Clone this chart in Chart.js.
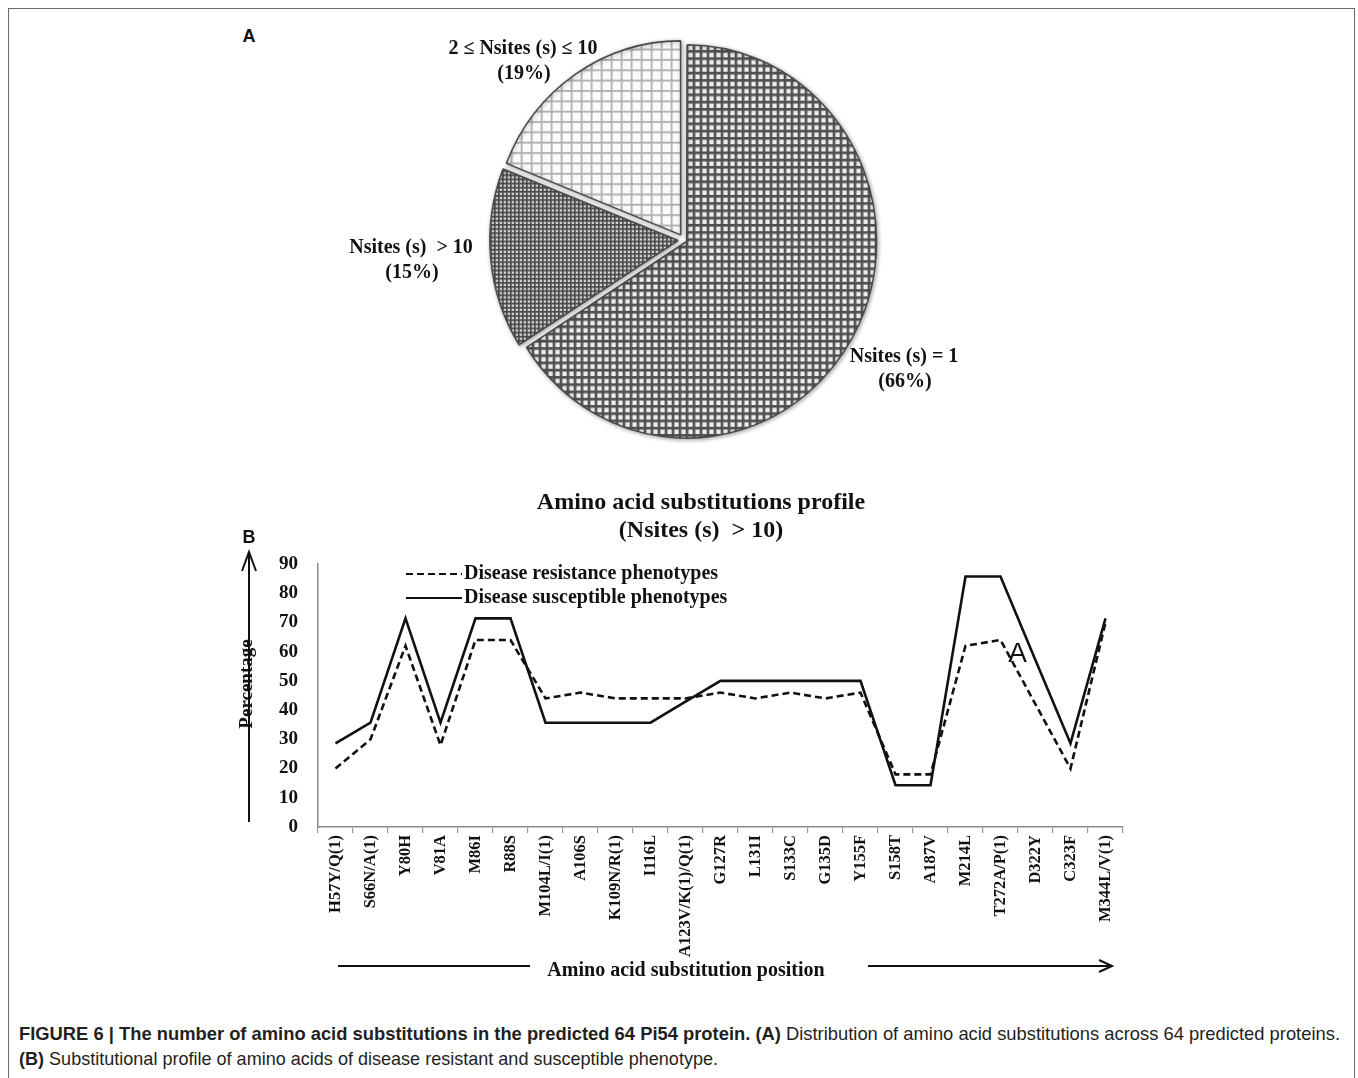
<!DOCTYPE html>
<html>
<head>
<meta charset="utf-8">
<title>Amino acid substitutions in predicted Pi54 proteins</title>
<script src="https://cdn.jsdelivr.net/npm/chart.js@4.4.1/dist/chart.umd.min.js"></script>
<style>
  html, body { margin: 0; padding: 0; background: #fff; }
  body { width: 1358px; height: 1078px; position: relative; overflow: hidden; }
  #frame { position: absolute; left: 8px; top: 8px; width: 1347px; height: 1090px;
           border: 1.5px solid #6b6b6b; border-bottom: none; box-sizing: border-box; }
  #pie  { position: absolute; left: 284px; top: 20px; }
  #line { position: absolute; left: 44px; top: 470px; }
  .panel { position: absolute; width: 20px; text-align: center; line-height: 20px;
           font: bold 18px "Liberation Sans", Arial, sans-serif; color: #111; }
  .cap { position: absolute; left: 19px; line-height: 20px; white-space: nowrap;
         font-family: "Liberation Sans", Arial, sans-serif;
         font-size: 19px; color: #231f20; transform-origin: 0 50%; }
</style>
</head>
<body>
<div id="frame"></div>
<div class="panel" style="left:239px; top:26px;">A</div>
<canvas id="pie" width="800" height="440"></canvas>
<canvas id="line" width="1314" height="530"></canvas>
<div class="cap" id="cap1" style="top:1024px;"><b>FIGURE 6 | The number of amino acid substitutions in the predicted 64 Pi54 protein. (A)</b> Distribution of amino acid substitutions across 64 predicted proteins.</div>
<div class="cap" id="cap2" style="top:1049px;"><b>(B)</b> Substitutional profile of amino acids of disease resistant and susceptible phenotype.</div>

<script>
// ---- Panel A: share of proteins by number of substitution sites ----
const pieGroups = ['Nsites (s) = 1', 'Nsites (s)  > 10', '2 \u2264 Nsites (s) \u2264 10'];
const pieShares = [66, 15, 19];

// ---- Panel B: substitution profile for positions with Nsites > 10 ----
const positions = ['H57Y/Q(1)', 'S66N/A(1)', 'Y80H', 'V81A', 'M86I', 'R88S', 'M104L/I(1)', 'A106S',
  'K109N/R(1)', 'I116L', 'A123V/K(1)/Q(1)', 'G127R', 'L131I', 'S133C', 'G135D', 'Y155F',
  'S158T', 'A187V', 'M214L', 'T272A/P(1)', 'D322Y', 'C323F', 'M344L/V(1)'];
const resistance  = [20, 30, 62, 28, 64, 64, 44, 46, 44, 44, 44, 46, 44, 46, 44, 46, 18, 18, 62, 64, 42, 20, 70];
const susceptible = [28.6, 35.7, 71.4, 35.7, 71.4, 71.4, 35.7, 35.7, 35.7, 35.7, 42.9, 50, 50, 50, 50, 50,
  14.3, 14.3, 85.7, 85.7, 57.1, 28.6, 71.4];
const seriesNames = ['Disease resistance phenotypes', 'Disease susceptible phenotypes'];
const yTicks = [0, 10, 20, 30, 40, 50, 60, 70, 80, 90];
const chartTitle = ['Amino acid substitutions profile', '(Nsites (s)  > 10)'];

const SERIF = '"Liberation Serif", "Times New Roman", serif';
const SANS = '"Liberation Sans", Arial, sans-serif';

// cross-hatch fills for the pie slices
const pieCanvas = document.getElementById('pie');
function gridPattern(pitch, lineW, lineColor, cellColor) {
  const c = document.createElement('canvas');
  c.width = pitch; c.height = pitch;
  const g = c.getContext('2d');
  g.fillStyle = cellColor; g.fillRect(0, 0, pitch, pitch);
  g.fillStyle = lineColor;
  g.fillRect(0, 0, lineW, pitch);
  g.fillRect(0, 0, pitch, lineW);
  return pieCanvas.getContext('2d').createPattern(c, 'repeat');
}
const pieFills = [
  gridPattern(7, 2.6, '#505050', '#ededed'),
  gridPattern(4, 1.6, '#474747', '#d6d6d6'),
  gridPattern(10, 1.8, '#b0b0b0', '#fbfbfb')
];

// soft drop shadow and a slight vertical stretch of the pie
const PIE_STRETCH = 1.035;
const pieShape = {
  id: 'pieShape',
  beforeDatasetsDraw(chart) {
    const c = chart.ctx;
    const a = chart.chartArea;
    const cx = (a.left + a.right) / 2, cy = (a.top + a.bottom) / 2;
    c.save();
    c.translate(cx, cy);
    c.scale(1, PIE_STRETCH);
    c.translate(-cx, -cy);
    c.shadowColor = 'rgba(0,0,0,0.35)';
    c.shadowBlur = 4;
    c.shadowOffsetX = 1;
    c.shadowOffsetY = 1;
  },
  afterDatasetsDraw(chart) { chart.ctx.restore(); }
};

// two-line slice captions, placed relative to the pie centre
const pieCaptionSpots = [[220, 129.5], [-273, 20.5], [-161, -178.5]];
const pieCaptions = {
  id: 'pieCaptions',
  afterDraw(chart) {
    const ctx = chart.ctx;
    const arc = chart.getDatasetMeta(0).data[0];
    const cx = arc.x, cy = arc.y;
    ctx.save();
    ctx.font = 'bold 20px ' + SERIF;
    ctx.fillStyle = '#111';
    ctx.textAlign = 'center';
    ctx.textBaseline = 'middle';
    chart.data.labels.forEach((name, i) => {
      const [dx, dy] = pieCaptionSpots[i];
      ctx.fillText(name, cx + dx, cy + dy - 12.5);
      ctx.fillText('(' + chart.data.datasets[0].data[i] + '%)', cx + dx + 1, cy + dy + 12.5);
    });
    ctx.restore();
  }
};

new Chart(pieCanvas, {
  type: 'pie',
  data: {
    labels: pieGroups,
    datasets: [{
      data: pieShares,
      backgroundColor: pieFills,
      borderColor: '#4a4a4a',
      borderWidth: 1.5,
      offset: [12, 24, 24]
    }]
  },
  options: {
    responsive: false,
    animation: false,
    devicePixelRatio: 1,
    radius: 187,
    layout: { padding: 0 },
    plugins: { legend: { display: false }, tooltip: { enabled: false } }
  },
  plugins: [pieShape, pieCaptions]
});

// legend, axis arrows and axis captions for the profile chart
const profileDecor = {
  id: 'profileDecor',
  afterDraw(chart) {
    const { ctx, chartArea: ca, scales } = chart;
    ctx.save();
    ctx.fillStyle = '#111';
    ctx.strokeStyle = '#111';

    // legend inside the plot
    const lx0 = ca.left + 88, lx1 = ca.left + 144;
    chart.data.datasets.forEach((ds, i) => {
      const y = ca.top + 10 + i * 24;
      ctx.beginPath();
      ctx.setLineDash(ds.borderDash || []);
      ctx.lineWidth = 2.2;
      ctx.moveTo(lx0, y); ctx.lineTo(lx1, y);
      ctx.stroke();
      ctx.setLineDash([]);
      ctx.font = 'bold 20px ' + SERIF;
      ctx.textAlign = 'left';
      ctx.textBaseline = 'middle';
      ctx.fillText(ds.label, lx1 + 2, y);
    });

    // vertical arrow with "Percentage"
    const ax = ca.left - 69;
    ctx.lineWidth = 2;
    ctx.beginPath();
    ctx.moveTo(ax, ca.bottom - 5); ctx.lineTo(ax, ca.top - 12);
    ctx.moveTo(ax - 7, ca.top + 7); ctx.lineTo(ax, ca.top - 12); ctx.lineTo(ax + 7, ca.top + 7);
    ctx.stroke();
    ctx.save();
    ctx.translate(ax - 2, ca.top + 120);
    ctx.rotate(-Math.PI / 2);
    ctx.font = 'bold 19px ' + SERIF;
    ctx.textAlign = 'center';
    ctx.textBaseline = 'middle';
    ctx.fillText('Percentage', 0, 0);
    ctx.restore();

    // panel letter
    ctx.font = 'bold 18px ' + SANS;
    ctx.textAlign = 'center';
    ctx.textBaseline = 'middle';
    ctx.fillText('B', ax, ca.top - 26);

    // horizontal arrow with axis caption
    const ay = ca.bottom + 139;
    ctx.lineWidth = 2;
    ctx.beginPath();
    ctx.moveTo(ca.left + 20, ay); ctx.lineTo(ca.left + 212, ay);
    ctx.moveTo(ca.left + 550, ay); ctx.lineTo(ca.left + 794, ay);
    ctx.moveTo(ca.left + 781, ay - 6); ctx.lineTo(ca.left + 794, ay); ctx.lineTo(ca.left + 781, ay + 6);
    ctx.stroke();
    ctx.font = 'bold 20px ' + SERIF;
    ctx.fillText('Amino acid substitution position', ca.left + 368, ay + 5);

    // stray letter printed on the plot
    ctx.font = '28px ' + SANS;
    ctx.fillText('A', scales.x.getPixelForValue(19) + 17, scales.y.getPixelForValue(59));
    ctx.restore();
  }
};

new Chart(document.getElementById('line'), {
  type: 'line',
  data: {
    labels: positions,
    datasets: [
      { label: seriesNames[0], data: resistance, borderColor: '#111', borderWidth: 2.6,
        borderDash: [7, 4], pointRadius: 0, tension: 0, fill: false },
      { label: seriesNames[1], data: susceptible, borderColor: '#111', borderWidth: 2.6,
        pointRadius: 0, tension: 0, fill: false }
    ]
  },
  options: {
    responsive: false,
    animation: false,
    devicePixelRatio: 1,
    // left padding keeps the title centred over the plot region
    layout: { padding: { left: 235, right: 235, top: 0, bottom: 0 } },
    plugins: {
      legend: { display: false },
      tooltip: { enabled: false },
      title: {
        display: true,
        text: chartTitle,
        color: '#111',
        font: { family: SERIF, size: 24, weight: 'bold', lineHeight: 28 / 24 },
        padding: { top: 19, bottom: 19 }
      }
    },
    scales: {
      x: {
        type: 'category',
        offset: true,
        grid: { offset: true, drawOnChartArea: false, drawTicks: true, tickLength: 6,
                color: '#9a9a9a', lineWidth: 1.2 },
        border: { display: true, color: '#8a8a8a', width: 1.5 },
        ticks: { autoSkip: false, minRotation: 90, maxRotation: 90, padding: 2, color: '#111',
                 font: { family: SERIF, size: 16.5, weight: 'bold' } },
        afterFit(s) { s.height = 173; }
      },
      y: {
        min: yTicks[0],
        max: yTicks[yTicks.length - 1],
        afterBuildTicks(s) { s.ticks = yTicks.map(v => ({ value: v })); },
        ticks: { padding: 20, color: '#111', font: { family: SERIF, size: 19, weight: 'bold' } },
        grid: { display: false, drawTicks: false },
        border: { display: true, color: '#8a8a8a', width: 1.5 },
        afterFit(s) { s.width = 39; }
      }
    }
  },
  plugins: [profileDecor]
});

// squeeze the caption lines to their printed widths
(function fitCaption() {
  const c1 = document.getElementById('cap1'), c2 = document.getElementById('cap2');
  c1.style.transform = 'scaleX(' + (1321 / c1.getBoundingClientRect().width) + ')';
  c2.style.transform = 'scaleX(' + (699 / c2.getBoundingClientRect().width) + ')';
})();
</script>
</body>
</html>
